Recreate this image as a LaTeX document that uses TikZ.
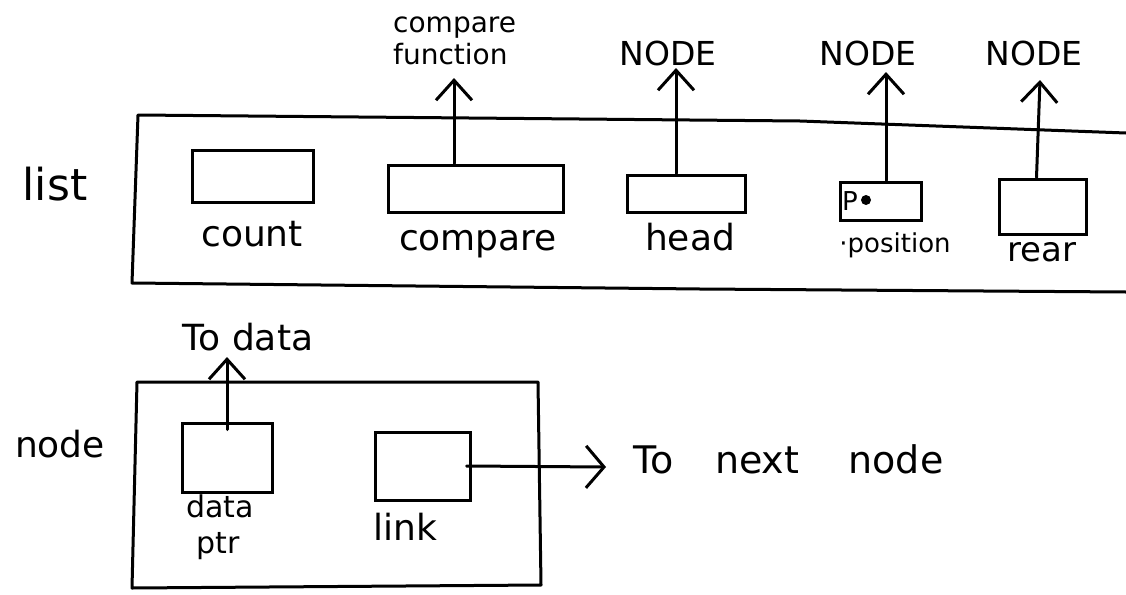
\documentclass[tikz,border=0pt]{standalone}
\usepackage{fontspec}
\setmainfont{DejaVu Sans}
\usetikzlibrary{arrows.meta}
\begin{document}
\begin{tikzpicture}[x=1pt,y=-1pt,
  ink/.style={line width=3pt, line join=round, line cap=round},
  box/.style={draw, line width=3pt, inner sep=0pt, minimum width=#1},
  lbl/.style={inner sep=0pt, anchor=base, font=\fontsize{36}{40}\selectfont},
  small/.style={inner sep=0pt, anchor=base, font=\fontsize{26}{30}\selectfont},
  caps/.style={inner sep=0pt, anchor=base, font=\fontsize{33}{36}\selectfont},
  arr/.style={ink, -{Straight Barb[length=20pt,width=36pt,line width=3pt]}},
  arrside/.style={ink, -{Straight Barb[length=18pt,width=42pt,line width=3pt]}}]
\useasboundingbox (0,0) rectangle (1126,594);
\fill[white] (0,0) rectangle (1126,594);

% list container (open at the right)
\draw[ink] (1126,133) -- (800,121) -- (138,115) -- (132,283) -- (700,289) -- (1126,292);
% node container
\draw[ink] (137,382) -- (538,382) -- (541,585) -- (132,588) -- cycle;

% fields of list
\node[box=121pt, minimum height=52pt] (count) at (252.5,176) {};
\node[box=175pt, minimum height=47pt] (cmp) at (475.5,188.5) {};
\node[box=118pt, minimum height=37pt] (head) at (686,193.5) {};
\node[box=81pt, minimum height=38pt] (pos) at (880.5,201) {};
\node[box=87pt, minimum height=55pt] (rear) at (1042.5,206.5) {};

% fields of node
\node[box=90pt, minimum height=69pt] (data) at (227,457.5) {};
\node[box=95pt, minimum height=68pt] (link) at (422.5,466) {};

% labels
\node[lbl, font=\fontsize{44}{48}\selectfont] (llist) at (55,200) {list};
\node[lbl] (lcount) at (252,246) {count};
\node[lbl] (lcmp) at (478,250) {compare};
\node[lbl] (lhead) at (690,250) {head};
\node[small] (lpos) at (895,252) {\textperiodcentered position};
\node[lbl, font=\fontsize{34}{36}\selectfont] (lrear) at (1042,261) {rear};

\node[inner sep=0pt, anchor=base west, font=\fontsize{28}{30}\selectfont] (cfun1) at (393,33) {compare};
\node[inner sep=0pt, anchor=base west, font=\fontsize{28}{30}\selectfont] (cfun2) at (393,64) {function};
\node[caps] (n1) at (668,65) {NODE};
\node[caps] (n2) at (868,65) {NODE};
\node[caps] (n3) at (1034,65) {NODE};

\node[lbl] (lnode) at (60,457) {node};
\node[lbl] (ltodata) at (248,350) {To data};
\node[inner sep=0pt, anchor=base, font=\fontsize{30}{32}\selectfont] (ldata) at (220,517) {data};
\node[inner sep=0pt, anchor=base, font=\fontsize{30}{32}\selectfont] (lptr) at (218,553) {ptr};
\node[lbl] (llink) at (405,540) {link};
\node[lbl, anchor=base west, font=\fontsize{38}{40}\selectfont] (lnext) at (633,473) {To\hspace{1.1em}next\hspace{1.3em}node};

% mark in position field
\node[inner sep=0pt, font=\fontsize{26}{28}\selectfont] (pP) at (850,201) {P};
\fill (866,200) circle (5pt);

% arrow tips
\coordinate (tipC) at (454,78);
\coordinate (tipH) at (676,68);
\coordinate (tipP) at (886,72);
\coordinate (tipR) at (1040,80);
\coordinate (tipD) at (227,357);
\coordinate (tipL) at (606,467);

\draw[arr] (cmp.north -| tipC) -- (tipC);
\draw[arr] (head.north -| tipH) -- (tipH);
\draw[arr] (pos.north -| tipP) -- (tipP);
\draw[arr] ([xshift=-6pt]rear.north) -- (tipR);
\draw[arr] ([yshift=-8pt]data.north) -- (tipD);
\draw[arrside] ([xshift=-5pt]link.east) -- (tipL);
\end{tikzpicture}
\end{document}
